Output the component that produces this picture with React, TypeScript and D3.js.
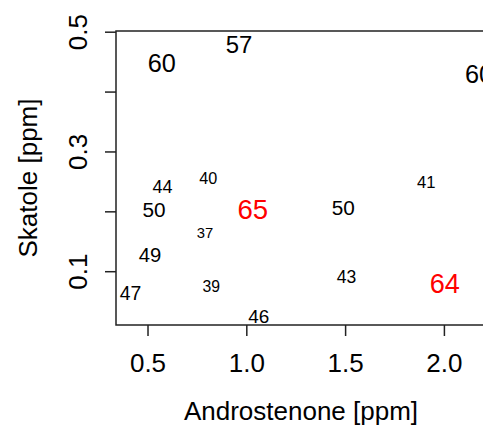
import React from "react";
import * as d3 from "d3";

const androstenone = [0.570, 0.961, 2.175, 0.573, 0.805, 0.530, 1.030, 0.788, 0.510, 0.820, 0.412, 1.061, 1.908, 1.488, 1.505, 2.002];
const skatole = [0.448, 0.480, 0.430, 0.243, 0.256, 0.204, 0.204, 0.165, 0.129, 0.076, 0.064, 0.026, 0.250, 0.208, 0.092, 0.081];
const labels = [60, 57, 60, 44, 40, 50, 65, 37, 49, 39, 47, 46, 41, 50, 43, 64];

const xTicks = [0.5, 1.0, 1.5, 2.0];
const yTicks = [0.1, 0.2, 0.3, 0.4, 0.5];
const yTickLabels = [0.1, 0.3, 0.5];

const W = 483;
const H = 427;
const left = 116, right = 486, top = 31, bottom = 325;
const FONT = "'Liberation Sans', Arial, Helvetica, sans-serif";
const baseSize = 26;

export default function App() {
  const x = d3.scaleLinear().domain([0.338, 2.2105]).range([left, right]);
  const y = d3.scaleLinear().domain([0.011, 0.502]).range([bottom, top]);
  const size = d3.scaleLinear().domain([40, 60]).range([16.2, 25.3]);
  const fmt = d3.format(".1f");

  return (
    <svg width={W} height={H} style={{ position: "absolute", left: 0, top: 0, background: "#fff" }} fontFamily={FONT}>
      <rect x={0} y={0} width={W} height={H} fill="#fff" />
      {/* box */}
      <rect x={left} y={top} width={right - left} height={bottom - top} fill="none" stroke="#222" strokeWidth={1.5} />
      {/* x axis ticks */}
      {xTicks.map((t) => (
        <g key={"xt" + t}>
          <line x1={x(t)} x2={x(t)} y1={bottom} y2={bottom + 11} stroke="#222" strokeWidth={1.5} />
          <text x={x(t)} y={372} textAnchor="middle" fontSize={baseSize} fill="#000">{fmt(t)}</text>
        </g>
      ))}
      {/* y axis ticks */}
      {yTicks.map((t) => (
        <line key={"yt" + t} x1={left - 11} x2={left} y1={y(t)} y2={y(t)} stroke="#222" strokeWidth={1.5} />
      ))}
      {yTickLabels.map((t) => (
        <text key={"yl" + t} transform={`translate(87,${y(t)}) rotate(-90)`} textAnchor="middle" fontSize={baseSize} fill="#000">{fmt(t)}</text>
      ))}
      {/* axis titles */}
      <text x={(left + right) / 2} y={420} textAnchor="middle" fontSize={baseSize} fill="#000">Androstenone [ppm]</text>
      <text transform={`translate(37,${(top + bottom) / 2}) rotate(-90)`} textAnchor="middle" fontSize={baseSize} fill="#000">Skatole [ppm]</text>
      {/* labels */}
      {labels.map((v, i) => (
        <text
          key={"p" + i}
          x={x(androstenone[i])}
          y={y(skatole[i])}
          dy="0.36em"
          textAnchor="middle"
          fontSize={size(v)}
          fill={v > 60 ? "#ff0000" : "#000"}
        >
          {v}
        </text>
      ))}
    </svg>
  );
}
